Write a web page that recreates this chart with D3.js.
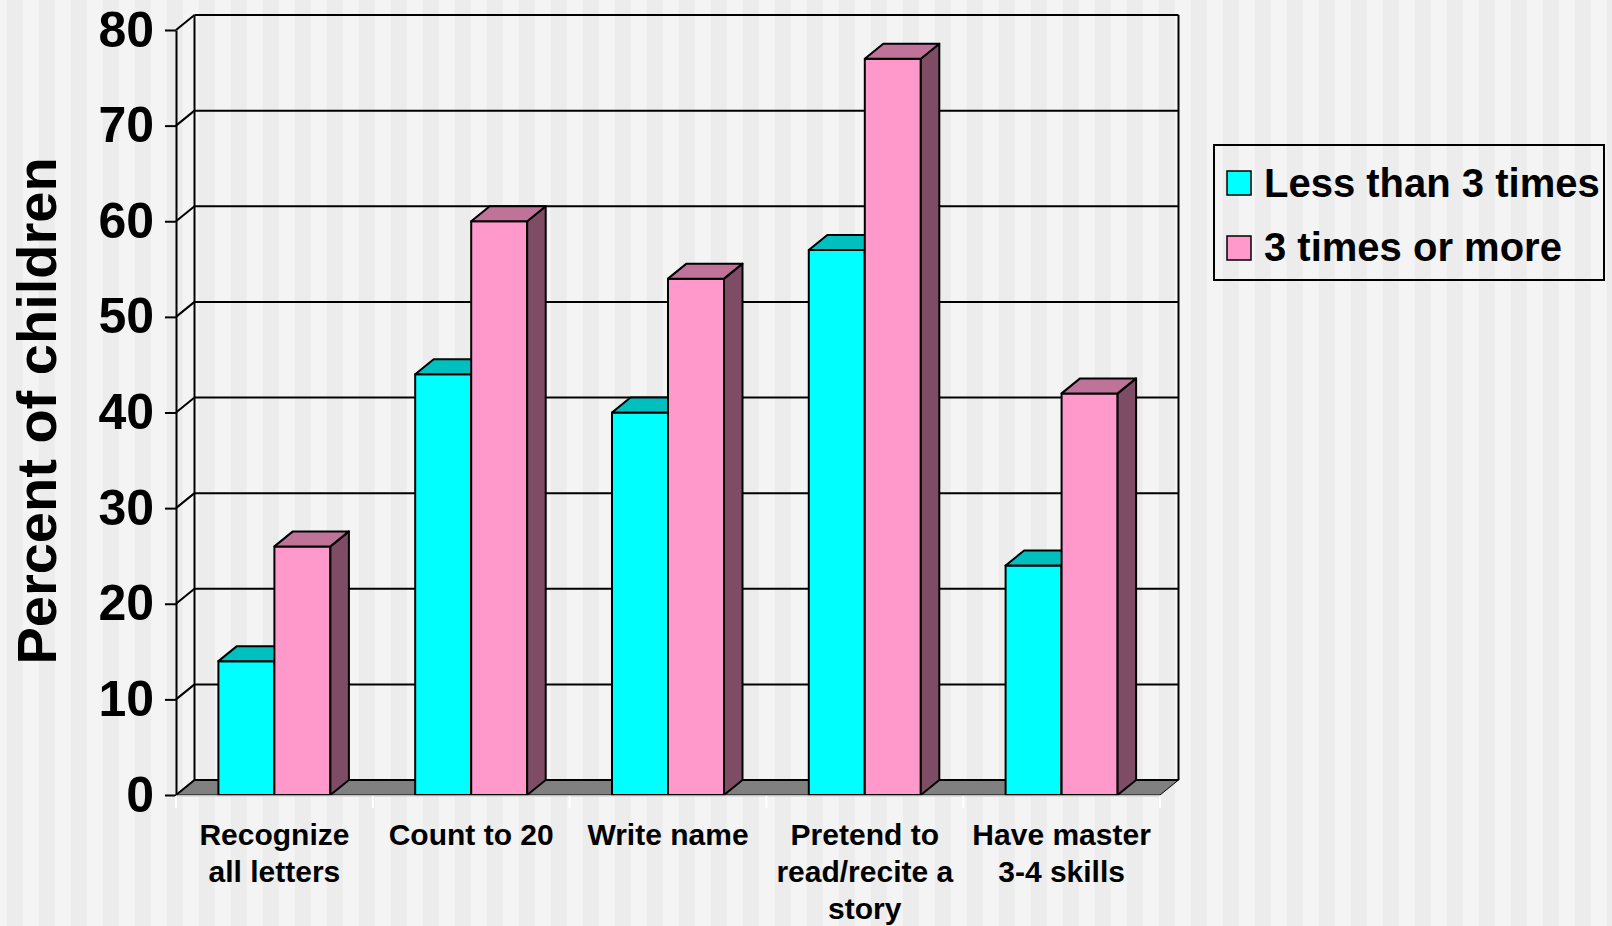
<!DOCTYPE html>
<html>
<head>
<meta charset="utf-8">
<script src="https://cdn.jsdelivr.net/npm/d3@7"></script>
<style>
  html, body { margin: 0; padding: 0; background: #f4f4f4; }
  svg { display: block; font-family: 'Liberation Sans', Arial, sans-serif; font-weight: bold; }
</style>
</head>
<body>
<svg id="chart"></svg>
<script>
const categories = ['Recognize\nall letters', 'Count to 20', 'Write name', 'Pretend to\nread/recite a\nstory', 'Have master\n3-4 skills'];
const seriesNames = ['Less than 3 times', '3 times or more'];
const lessThan3 = [14, 44, 40, 57, 24];
const threeOrMore = [26, 60, 54, 77, 42];
const yTicks = [0, 10, 20, 30, 40, 50, 60, 70, 80];

const width = 1612, height = 926;
const dx = 18.5, dy = 15; // 3d depth
const shades = [
  {front: '#00ffff', top: '#00bfbf', side: '#008080'},
  {front: '#ff99cc', top: '#bf7399', side: '#7f4c66'}
];

const svg = d3.select('#chart').attr('width', width).attr('height', height);

// striped background
const pat = svg.append('defs').append('pattern')
  .attr('id', 'stripes').attr('patternUnits', 'userSpaceOnUse')
  .attr('x', 6.7).attr('width', 32).attr('height', 10);
pat.append('rect').attr('width', 16).attr('height', 10).attr('fill', '#ececec');
pat.append('rect').attr('x', 16).attr('width', 16).attr('height', 10).attr('fill', '#f4f4f4');
svg.append('rect').attr('width', width).attr('height', height).attr('fill', 'url(#stripes)');

// scales
const x = d3.scaleBand().domain(d3.range(categories.length)).range([176, 1160]);
const x1 = d3.scaleBand().domain(seriesNames).range([0, x.bandwidth()]).paddingOuter(0.757);
const y = d3.scaleLinear().domain([0, 80]).range([795, 30]);

const x0 = x.range()[0], xEnd = x.range()[1];

// floor
svg.append('polygon')
  .attr('points', [[x0, y(0)], [xEnd, y(0)], [xEnd + dx, y(0) - dy], [x0 + dx, y(0) - dy]].join(' '))
  .attr('fill', '#808080').attr('stroke', '#000').attr('stroke-width', 1);

// back wall gridlines + side wall diagonals
const grid = svg.append('g').attr('stroke', '#000').attr('stroke-width', 2);
grid.selectAll('.gl').data(yTicks).enter().append('line')
  .attr('x1', x0 + dx).attr('x2', xEnd + dx)
  .attr('y1', d => y(d) - dy).attr('y2', d => y(d) - dy);
grid.selectAll('.dg').data(yTicks).enter().append('line')
  .attr('x1', x0).attr('x2', x0 + dx)
  .attr('y1', d => y(d)).attr('y2', d => y(d) - dy);
grid.append('line').attr('x1', x0 + dx).attr('x2', x0 + dx).attr('y1', y(80) - dy).attr('y2', y(0) - dy);
grid.append('line').attr('x1', xEnd + dx).attr('x2', xEnd + dx).attr('y1', y(80) - dy).attr('y2', y(0) - dy);

// y axis
const yAxis = svg.append('g')
  .attr('transform', 'translate(' + x0 + ',0)')
  .call(d3.axisLeft(y).tickValues(yTicks).tickSize(11).tickSizeOuter(0).tickPadding(11));
yAxis.selectAll('path, line').attr('stroke', '#000').attr('stroke-width', 2);
yAxis.selectAll('text').attr('font-size', 50).attr('font-weight', 'bold')
  .attr('font-family', "'Liberation Sans', Arial, sans-serif").attr('fill', '#000');

// bars
const barData = categories.map((c, i) => [
  {cat: i, s: seriesNames[0], v: lessThan3[i], k: 0},
  {cat: i, s: seriesNames[1], v: threeOrMore[i], k: 1}
]).flat();

const bars = svg.append('g').attr('stroke', '#000').attr('stroke-width', 2).attr('stroke-linejoin', 'round');
barData.forEach(d => {
  const bx = x(d.cat) + x1(d.s), w = x1.bandwidth(), top = y(d.v), base = y(0);
  const g = bars.append('g');
  g.append('rect').attr('x', bx).attr('y', top).attr('width', w).attr('height', base - top)
    .attr('fill', shades[d.k].front);
  g.append('polygon')
    .attr('points', [[bx + w, top], [bx + w + dx, top - dy], [bx + w + dx, base - dy], [bx + w, base]].join(' '))
    .attr('fill', shades[d.k].side);
  g.append('polygon')
    .attr('points', [[bx, top], [bx + w, top], [bx + w + dx, top - dy], [bx + dx, top - dy]].join(' '))
    .attr('fill', shades[d.k].top);
});

// category axis
const cax = svg.append('g');
cax.append('line').attr('x1', x0).attr('x2', xEnd).attr('y1', 796).attr('y2', 796)
  .attr('stroke', '#d8d8d8').attr('stroke-width', 1.5);
cax.selectAll('.ct').data(d3.range(categories.length + 1)).enter().append('line')
  .attr('x1', i => x0 + i * x.step()).attr('x2', i => x0 + i * x.step())
  .attr('y1', 796).attr('y2', 808).attr('stroke', '#fff').attr('stroke-width', 2);

const labels = svg.append('g').attr('font-size', 30).attr('text-anchor', 'middle').attr('fill', '#000');
categories.forEach((c, i) => {
  const t = labels.append('text').attr('x', x(i) + x.bandwidth() / 2).attr('y', 845);
  c.split('\n').forEach((line, j) => {
    t.append('tspan').attr('x', x(i) + x.bandwidth() / 2).attr('dy', j === 0 ? 0 : 37).text(line);
  });
});

// y title
svg.append('text')
  .attr('transform', 'translate(56,411) rotate(-90)')
  .attr('text-anchor', 'middle').attr('font-size', 56).attr('fill', '#000')
  .text('Percent of children');

// legend
const leg = svg.append('g');
leg.append('rect').attr('x', 1214).attr('y', 145).attr('width', 390).attr('height', 135)
  .attr('fill', 'none').attr('stroke', '#000').attr('stroke-width', 2);
seriesNames.forEach((s, i) => {
  leg.append('rect').attr('x', 1227).attr('y', 171 + i * 65).attr('width', 24).attr('height', 24)
    .attr('fill', shades[i].front).attr('stroke', '#000').attr('stroke-width', 1.5);
  leg.append('text').attr('x', 1264).attr('y', 197 + i * 64).attr('font-size', 40).attr('fill', '#000').text(s);
});
</script>
</body>
</html>
